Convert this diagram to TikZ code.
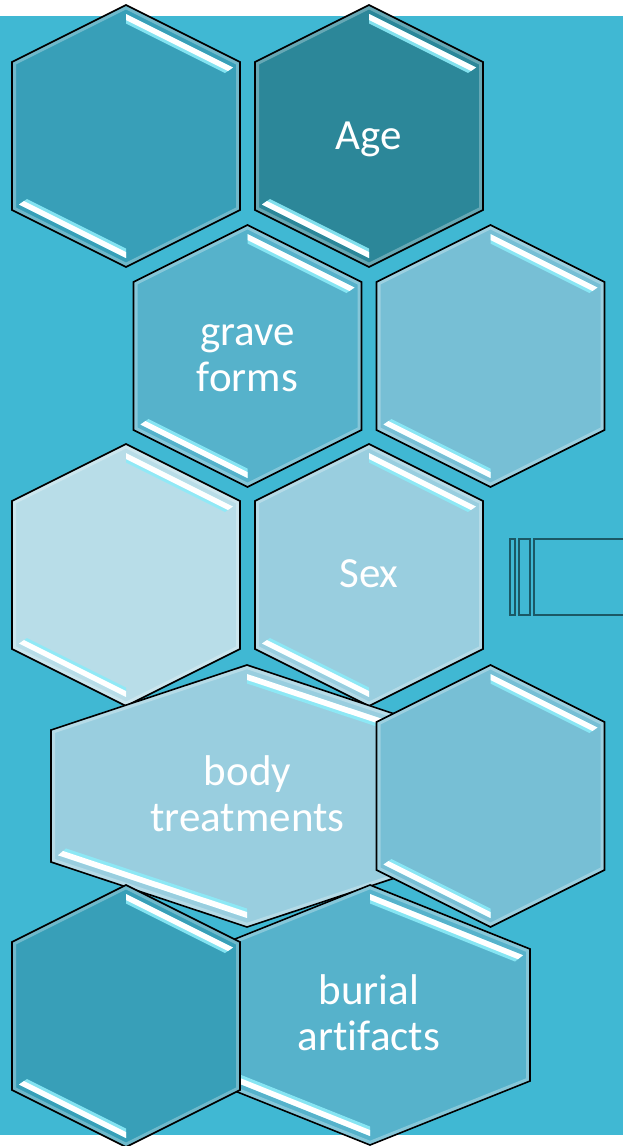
\documentclass[tikz,border=0pt]{standalone}
\usepackage{fontspec}
\setmainfont{Carlito}[Ligatures={NoCommon}]
\definecolor{bgteal}{HTML}{40B8D3}
\definecolor{cMid}{HTML}{389FB8}
\definecolor{cDark}{HTML}{2C8799}
\definecolor{cGrave}{HTML}{56B2CB}
\definecolor{cSoft}{HTML}{77BFD5}
\definecolor{cPale}{HTML}{B8DDE8}
\definecolor{cLight}{HTML}{99CEDF}
\definecolor{glowc}{HTML}{8CEBF8}
\definecolor{iconc}{HTML}{1B5865}
\tikzset{
  hexborder/.style={draw=black, line width=1.6pt, line join=miter},
  rimglow/.style={draw=white, opacity=0.28, line width=8pt},
  stripglow/.style={fill=glowc, opacity=0.9},
  stripwhite/.style={fill=white},
  lbl/.style={text=white, font=\fontsize{43}{46}\selectfont, align=center, inner sep=0pt},
  iconbox/.style={draw=iconc, line width=2pt},
}
% cx, cy, half-width, half-height, vertical half side, colour
\newcommand{\hexcell}[6]{%
  \pgfmathsetmacro{\hcx}{#1}%
  \pgfmathsetmacro{\hT}{#2-#4}%
  \pgfmathsetmacro{\hB}{#2+#4}%
  \pgfmathsetmacro{\hU}{#2-#5}%
  \pgfmathsetmacro{\hD}{#2+#5}%
  \pgfmathsetmacro{\hL}{#1-#3}%
  \pgfmathsetmacro{\hR}{#1+#3}%
  \pgfmathsetmacro{\hs}{(#4-#5)/#3}%
  \fill[#6] (\hcx,\hT) -- (\hR,\hU) -- (\hR,\hD) -- (\hcx,\hB) -- (\hL,\hD) -- (\hL,\hU) -- cycle;
  \begin{scope}
    \clip (\hcx,\hT) -- (\hR,\hU) -- (\hR,\hD) -- (\hcx,\hB) -- (\hL,\hD) -- (\hL,\hU) -- cycle;
    \draw[rimglow] (\hcx,\hT) -- (\hR,\hU) -- (\hR,\hD) -- (\hcx,\hB) -- (\hL,\hD) -- (\hL,\hU) -- cycle;
    % top-right strip
    \path[stripglow] (\hcx,{\hT+9}) -- ({\hR-7},{\hT+9+\hs*(#3-7)}) -- ({\hR-15},{\hT+18.5+\hs*(#3-15)}) -- (\hcx,{\hT+18.5}) -- cycle;
    \path[stripwhite] (\hcx,{\hT+9}) -- ({\hR-7},{\hT+9+\hs*(#3-7)}) -- ({\hR-12},{\hT+15+\hs*(#3-12)}) -- (\hcx,{\hT+15}) -- cycle;
    % bottom-left strip
    \path[stripglow] (\hcx,{\hB-9}) -- ({\hL+7},{\hB-9-\hs*(#3-7)}) -- ({\hL+15},{\hB-18.5-\hs*(#3-15)}) -- (\hcx,{\hB-18.5}) -- cycle;
    \path[stripwhite] (\hcx,{\hB-9}) -- ({\hL+7},{\hB-9-\hs*(#3-7)}) -- ({\hL+12},{\hB-15-\hs*(#3-12)}) -- (\hcx,{\hB-15}) -- cycle;
  \end{scope}
  \draw[hexborder] (\hcx,\hT) -- (\hR,\hU) -- (\hR,\hD) -- (\hcx,\hB) -- (\hL,\hD) -- (\hL,\hU) -- cycle;
}
\begin{document}
\begin{tikzpicture}[x=1pt,y=-1pt]
\useasboundingbox (0,0) rectangle (623,1146);
\fill[white] (0,0) rectangle (623,1146);
\fill[bgteal] (0,16) rectangle (623,1135);

% row 1
\hexcell{126}{136}{114}{131}{74}{cMid}
\hexcell{369}{136}{114}{131}{74}{cDark}
% row 2
\hexcell{247.5}{356}{114}{131}{74}{cGrave}
\hexcell{490.5}{356}{114}{131}{74}{cSoft}
% row 3
\hexcell{126}{575}{114}{131}{74}{cPale}
\hexcell{369}{575}{114}{131}{74}{cLight}
% row 4
\hexcell{247}{796}{196}{131}{66}{cLight}
\hexcell{490.5}{796}{114}{131}{74}{cSoft}
% row 5
\hexcell{370}{1015}{160}{130}{66}{cGrave}
\hexcell{126}{1016}{114}{131}{74}{cMid}

% labels
\node[lbl] (tAge) at (369,139) {Age};
\node[lbl] (tGrave) at (247.5,358) {grave\\forms};
\node[lbl] (tSex) at (369,574) {Sex};
\node[lbl] (tBody) at (247.5,794) {body\\treatments};
\node[lbl] (tBurial) at (369,1013) {burial\\artifacts};

% small icon at the right edge
\draw[iconbox] (510,539) rectangle (515,615);
\draw[iconbox] (519,539) rectangle (530,615);
\draw[iconbox] (624,539) -- (534,539) -- (534,615) -- (624,615);
\end{tikzpicture}
\end{document}
